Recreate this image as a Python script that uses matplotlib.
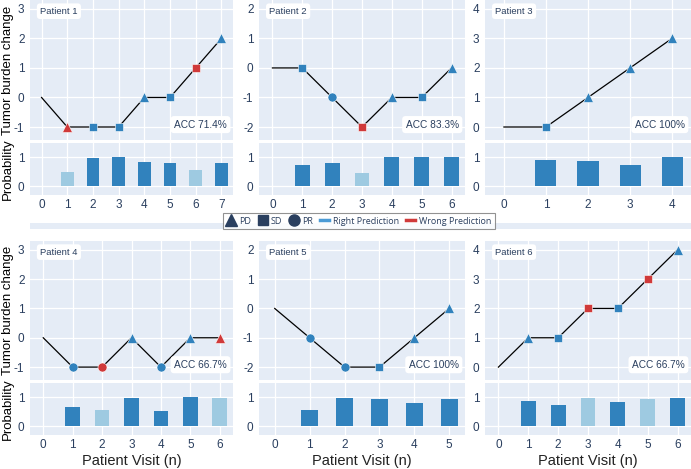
import matplotlib
matplotlib.use("Agg")
import matplotlib.pyplot as plt
from matplotlib.lines import Line2D

plt.rcParams['font.family'] = ['Liberation Sans', 'DejaVu Sans']
plt.rcParams['axes.unicode_minus'] = False

W, H = 691, 469
BG = '#E5ECF6'
TXT = '#2a3f5f'
BLUE = '#3182bd'
LIGHT = '#9ecae1'
RED = '#d03a3a'

# data per patient
patients = ['Patient 1', 'Patient 2', 'Patient 3', 'Patient 4', 'Patient 5', 'Patient 6']
burden = [
    [0, -1, -1, -1, 0, 0, 1, 2],
    [0, 0, -1, -2, -1, -1, 0],
    [0, 0, 1, 2, 3],
    [0, -1, -1, 0, -1, 0, 0],
    [0, -1, -2, -2, -1, 0],
    [0, 1, 1, 2, 2, 3, 4],
]
# response class at visits 1..n  (PD triangle, SD square, PR circle)
response = [
    ['PD', 'SD', 'SD', 'PD', 'SD', 'SD', 'PD'],
    ['SD', 'PR', 'SD', 'PD', 'SD', 'PD'],
    ['SD', 'PD', 'PD', 'PD'],
    ['PR', 'PR', 'PD', 'PR', 'PD', 'PD'],
    ['PR', 'PR', 'SD', 'PD', 'PD'],
    ['PD', 'SD', 'SD', 'SD', 'SD', 'PD'],
]
correct = [
    [0, 1, 1, 1, 1, 0, 1],
    [1, 1, 0, 1, 1, 1],
    [1, 1, 1, 1],
    [1, 0, 1, 1, 1, 0],
    [1, 1, 1, 1, 1],
    [1, 1, 0, 1, 0, 1],
]
probability = [
    [0.48, 0.97, 1.00, 0.83, 0.80, 0.55, 0.80],
    [0.72, 0.78, 0.47, 1.00, 0.99, 0.99],
    [0.90, 0.86, 0.73, 1.00],
    [0.66, 0.56, 0.98, 0.52, 1.00, 0.96],
    [0.55, 0.97, 0.94, 0.80, 0.93],
    [0.85, 0.74, 0.96, 0.82, 0.93, 0.98],
]
acc = ['ACC 71.4%', 'ACC 83.3%', 'ACC 100%', 'ACC 66.7%', 'ACC 100%', 'ACC 66.7%']

markers = {'PD': ('^', 7.0), 'SD': ('s', 6.0), 'PR': ('o', 6.5)}

cols = [(30, 233), (259, 465), (485, 691)]
rows = [((0, 140), (143, 195)), ((241, 380), (383, 435))]


def rect(x0, y0, x1, y1):
    return [x0 / W, 1 - y1 / H, (x1 - x0) / W, (y1 - y0) / H]


def style(ax):
    ax.set_facecolor(BG)
    for s in ax.spines.values():
        s.set_visible(False)
    ax.grid(True, color='white', lw=0.9)
    ax.set_axisbelow(True)
    ax.tick_params(length=0, colors=TXT, labelsize=8.5)
    ax.tick_params(axis='y', pad=4)
    ax.tick_params(axis='x', pad=3)


fig = plt.figure(figsize=(W / 100, H / 100), dpi=100)

# thin separator band between the rows
sep = fig.add_axes(rect(30, 223, 691, 229))
sep.set_facecolor(BG)
sep.set_xticks([])
sep.set_yticks([])
for s in sep.spines.values():
    s.set_visible(False)

for i in range(6):
    r, c = divmod(i, 3)
    (my0, my1), (py0, py1) = rows[r]
    x0, x1 = cols[c]
    y = burden[i]
    n = len(y) - 1
    xs = list(range(n + 1))

    ax = fig.add_axes(rect(x0, my0, x1, my1))
    style(ax)
    ax.plot(xs, y, color='black', lw=0.9, zorder=2)
    for k in range(1, n + 1):
        m, ms = markers[response[i][k - 1]]
        col = BLUE if correct[i][k - 1] else RED
        ax.plot(xs[k], y[k], marker=m, ms=ms, color=col, mec='white', mew=0.4, zorder=3)
    ylo = min(y)
    ax.set_ylim(ylo - 0.44, ylo + 4.3)
    ax.set_yticks(range(ylo, ylo + 5))
    ax.set_xlim(-0.45, n + 0.45)
    ax.set_xticks(xs)
    ax.set_xticklabels([])
    ax.text(0.05, 0.92, patients[i], transform=ax.transAxes, fontsize=6.8, color=TXT,
            va='center', ha='left',
            bbox=dict(boxstyle='round,pad=0.35', fc='white', ec='none'))
    ax.text(0.97, 0.11, acc[i], transform=ax.transAxes, fontsize=7.3, color=TXT,
            va='center', ha='right',
            bbox=dict(boxstyle='round,pad=0.35', fc='white', ec='none'))

    pax = fig.add_axes(rect(x0, py0, x1, py1))
    style(pax)
    bar_cols = [BLUE if ok else LIGHT for ok in correct[i]]
    pax.bar(xs[1:], probability[i], width=0.5, color=bar_cols, zorder=2)
    pax.set_xlim(-0.45, n + 0.45)
    pax.set_ylim(-0.3, 1.48)
    pax.set_yticks([0, 1])
    pax.set_xticks(xs)

    if c == 0:
        fig.text(8 / W, 1 - (my0 + my1) / 2 / H, 'Tumor burden change', rotation=90,
                 fontsize=9.5, color='black', ha='center', va='center')
        fig.text(8 / W, 1 - (py0 + py1) / 2 / H, 'Probability', rotation=90,
                 fontsize=9.5, color='black', ha='center', va='center')
    if r == 1:
        pax.set_xlabel('Patient Visit (n)', fontsize=10.5, color='#222222', labelpad=2)

# legend
NAVY = '#2a3f5f'
handles = [
    Line2D([], [], ls='none', marker='^', ms=8, color=NAVY),
    Line2D([], [], ls='none', marker='s', ms=7.5, color=NAVY),
    Line2D([], [], ls='none', marker='o', ms=8, color=NAVY),
    Line2D([], [], color='#4a9bd6', lw=2.5),
    Line2D([], [], color=RED, lw=2.5),
]
labels = ['PD', 'SD', 'PR', 'Right Prediction', 'Wrong Prediction']
leg = fig.legend(handles, labels, loc='center', bbox_to_anchor=(359 / W, 1 - 221 / H),
                 ncol=5, frameon=True, fancybox=False,
                 handlelength=1.0, handletextpad=0.4, columnspacing=0.8,
                 borderpad=0.35, prop={'family': 'Open Sans', 'size': 6.5})
leg.get_frame().set_edgecolor('#777777')
leg.get_frame().set_linewidth(0.8)
for t in leg.get_texts():
    t.set_color(NAVY)

fig.savefig('out.png', dpi=100, facecolor='white')
